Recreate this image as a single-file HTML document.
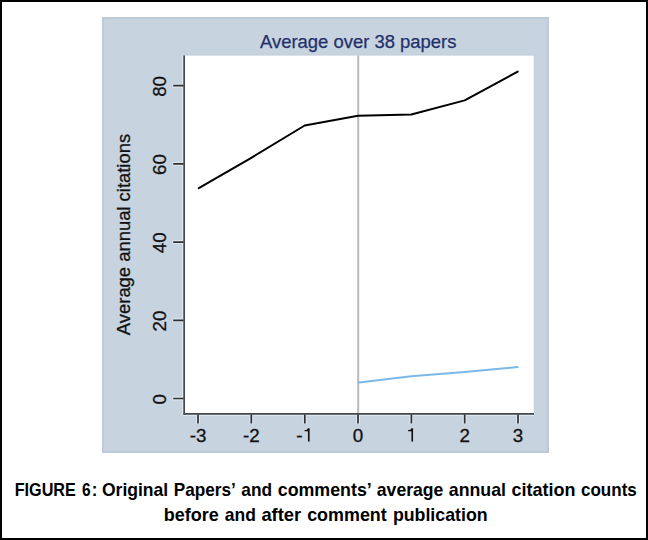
<!DOCTYPE html>
<html><head><meta charset="utf-8">
<style>
html,body{margin:0;padding:0;background:#fff;}
#fr{position:relative;width:648px;height:540px;box-sizing:border-box;border:2px solid #000;overflow:hidden;background:#fff;}
svg{position:absolute;left:-2px;top:-2px;}
text{font-family:"Liberation Sans",sans-serif;}
</style></head><body>
<div id="fr">
<svg width="648" height="540" viewBox="0 0 648 540">
<rect x="102" y="17" width="447" height="436" fill="#c7d3df"/>
<rect x="103" y="18" width="445" height="434" fill="none" stroke="#bdcbd9" stroke-width="2"/>
<text x="358.25" y="47.5" font-size="18.45" text-anchor="middle" fill="#22306a" stroke="#22306a" stroke-width="0.25">Average over 38 papers</text>
<g stroke="#dbe6f1" stroke-width="4" fill="none">
<line x1="184" y1="56" x2="184" y2="415"/>
<line x1="183" y1="414" x2="534" y2="414"/>
<path d="M172.5 85.7H184M172.5 163.9H184M172.5 242.1H184M172.5 320.3H184M172.5 398.5H184"/>
<path d="M198 414V424M251.3 414V424M304.7 414V424M358 414V424M411.3 414V424M464.7 414V424M518 414V424"/>
</g>
<line x1="184" y1="55" x2="534" y2="55" stroke="#bfccd9" stroke-width="1"/>
<rect x="185" y="55.6" width="348.6" height="357.4" fill="#fff"/>
<g fill="none">
<line x1="184.15" y1="55.6" x2="184.15" y2="414.6" stroke="#46484b" stroke-width="1.7"/>
<line x1="183.3" y1="413.83" x2="534" y2="413.83" stroke="#46484b" stroke-width="1.65"/>
<path stroke="#2e3136" stroke-width="1.7" d="M173.2 85.7H183.5M173.2 163.9H183.5M173.2 242.1H183.5M173.2 320.3H183.5M173.2 398.5H183.5"/>
<path stroke="#2e3136" stroke-width="1.7" d="M198 414.5V423.5M251.3 414.5V423.5M304.8 414.5V423.5M358 414.5V423.5M411.4 414.5V423.5M464.7 414.5V423.5M518 414.5V423.5"/>
</g>
<g font-size="18.8" fill="#111" stroke="#111" stroke-width="0.3" text-anchor="middle">
<text transform="translate(166.1,86.4) rotate(-90)">80</text>
<text transform="translate(166.1,164.6) rotate(-90)">60</text>
<text transform="translate(166.1,242.8) rotate(-90)">40</text>
<text transform="translate(166.1,321) rotate(-90)">20</text>
<text transform="translate(166.1,399.2) rotate(-90)">0</text>
<text x="198" y="441.6">-3</text>
<text x="251.3" y="441.6">-2</text>
<text x="296.34" y="441.6" text-anchor="start">-</text>
<path transform="translate(302.60,441.6) scale(0.009180,-0.009180)" stroke="none" d="M763 0L583 0L583 1135L220 1135L220 1255C400 1265 540 1335 592 1466L763 1466Z"/>
<text x="358" y="441.6">0</text>
<path transform="translate(406.07,441.6) scale(0.009180,-0.009180)" stroke="none" d="M763 0L583 0L583 1135L220 1135L220 1255C400 1265 540 1335 592 1466L763 1466Z"/>
<text x="464.7" y="441.6">2</text>
<text x="518" y="441.6">3</text>
</g>
<text transform="translate(130.4,234.5) rotate(-90)" font-size="18.42" fill="#111" stroke="#111" stroke-width="0.3" text-anchor="middle">Average annual citations</text>
<line x1="358.2" y1="55.6" x2="358.2" y2="413" stroke="#b9b9b9" stroke-width="2"/>
<polyline points="198.8,188.2 251.3,157.8 304.7,125.5 358,115.7 411.3,114.5 464.7,100.4 517.7,71.6" fill="none" stroke="#000" stroke-width="2" stroke-linejoin="round" stroke-linecap="round"/>
<polyline points="359,382.4 411.3,376.3 464.7,372.1 517.7,367" fill="none" stroke="#7ab9e8" stroke-width="2" stroke-linejoin="round" stroke-linecap="round"/>
<g font-weight="bold" font-size="17.9" fill="#000">
<text x="14.67" y="495.9" textLength="61.22" lengthAdjust="spacingAndGlyphs">FIGURE</text>
<text x="81.98" y="495.9" textLength="8.63" lengthAdjust="spacingAndGlyphs">6</text>
<text x="91.81" y="495.9" textLength="5.67" lengthAdjust="spacingAndGlyphs">:</text>
<text x="101.93" y="495.9" textLength="66.26" lengthAdjust="spacingAndGlyphs">Original</text>
<text x="173.80" y="495.9" textLength="62.01" lengthAdjust="spacingAndGlyphs">Papers’</text>
<text x="241.34" y="495.9" textLength="30.75" lengthAdjust="spacingAndGlyphs">and</text>
<text x="277.75" y="495.9" textLength="94.01" lengthAdjust="spacingAndGlyphs">comments’</text>
<text x="376.83" y="495.9" textLength="66.52" lengthAdjust="spacingAndGlyphs">average</text>
<text x="448.83" y="495.9" textLength="57.18" lengthAdjust="spacingAndGlyphs">annual</text>
<text x="511.55" y="495.9" textLength="64.02" lengthAdjust="spacingAndGlyphs">citation</text>
<text x="580.98" y="495.9" textLength="55.87" lengthAdjust="spacingAndGlyphs">counts</text>
<text x="163.76" y="520.7" textLength="55.00" lengthAdjust="spacingAndGlyphs">before</text>
<text x="224.84" y="520.7" textLength="31.06" lengthAdjust="spacingAndGlyphs">and</text>
<text x="261.41" y="520.7" textLength="39.82" lengthAdjust="spacingAndGlyphs">after</text>
<text x="307.15" y="520.7" textLength="79.62" lengthAdjust="spacingAndGlyphs">comment</text>
<text x="392.88" y="520.7" textLength="94.77" lengthAdjust="spacingAndGlyphs">publication</text>
</g>
</svg>
</div>
</body></html>
